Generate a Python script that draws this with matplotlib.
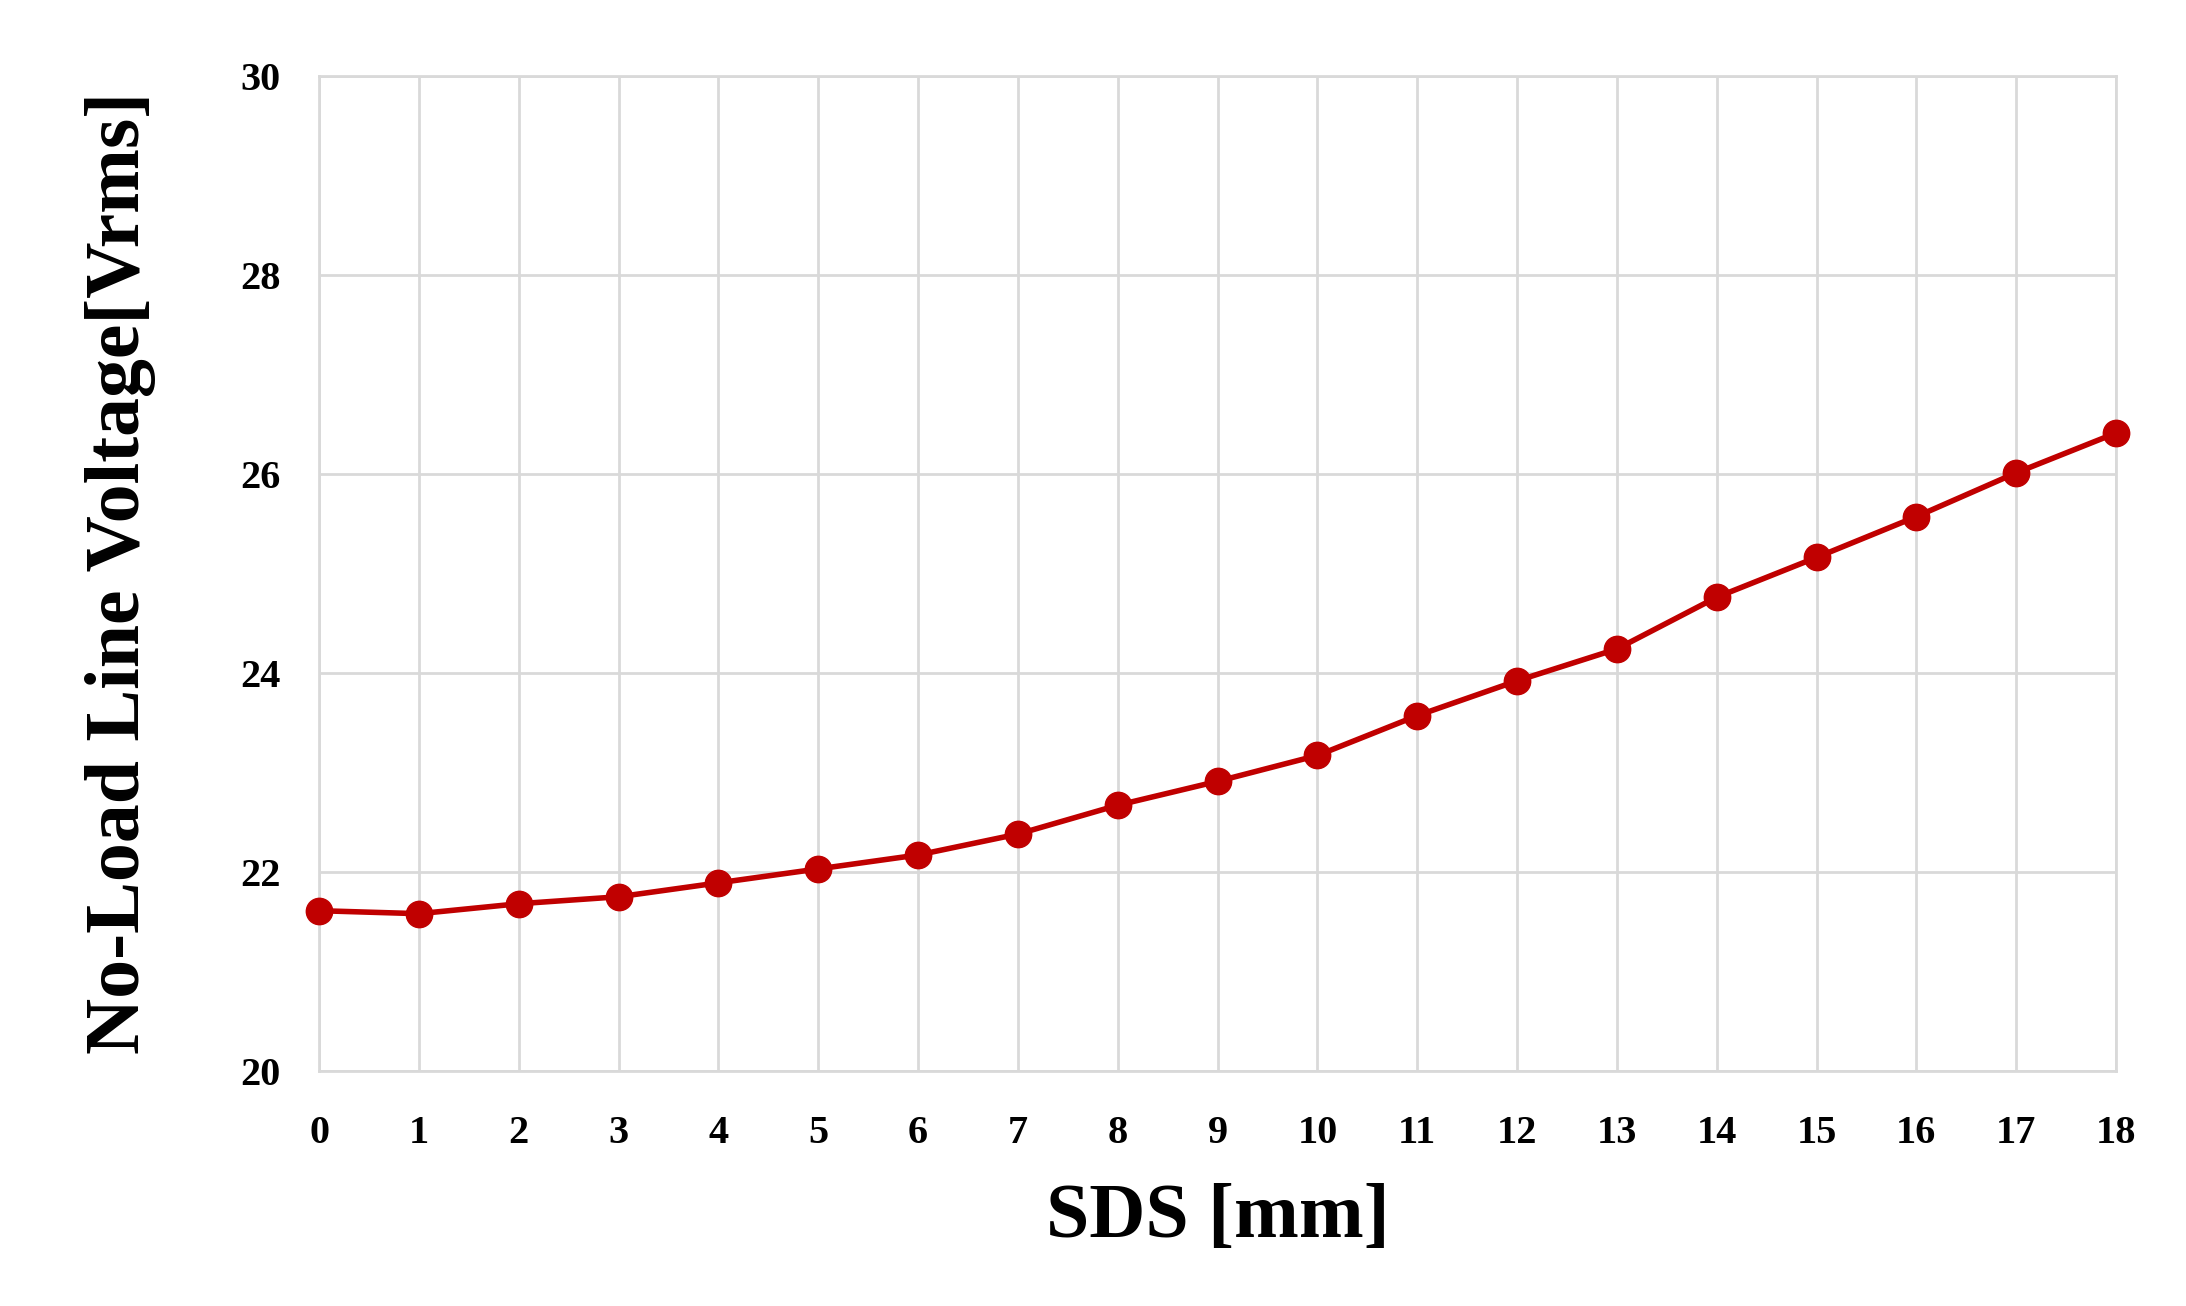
import matplotlib
matplotlib.use('Agg')
import matplotlib.pyplot as plt

# SDS [mm] vs no-load line voltage
sds = list(range(19))
voltage = [21.61, 21.58, 21.68, 21.75, 21.89, 22.03, 22.17, 22.38, 22.67, 22.91,
           23.17, 23.57, 23.92, 24.24, 24.76, 25.16, 25.57, 26.01, 26.41]

plt.rcParams['font.family'] = ['Liberation Serif', 'DejaVu Serif']

fig = plt.figure(figsize=(21.86, 13.06), dpi=100)
ax = fig.add_axes([0.146, 0.18, 0.822, 0.762])

ax.plot(sds, voltage, color='#c00000', lw=4, marker='o', ms=19, zorder=3, clip_on=False)

ax.set_xlim(0, 18)
ax.set_ylim(20, 30)
ax.set_xticks(sds)
ax.set_yticks(range(20, 31, 2))
ax.grid(True, color='#d9d9d9', lw=2)
for s in ax.spines.values():
    s.set_color('#d9d9d9')
    s.set_linewidth(2)
ax.tick_params(length=0, labelsize=29)
ax.tick_params(axis='x', pad=32)
ax.tick_params(axis='y', pad=28)
for lab in ax.get_xticklabels() + ax.get_yticklabels():
    lab.set_fontweight('bold')

ax.set_xlabel('SDS [mm]', fontsize=56, fontweight='bold', labelpad=22)
ax.set_ylabel('No-Load Line Voltage[Vrms]', fontsize=56, fontweight='bold', labelpad=60)

fig.savefig('out.png', dpi=100)
